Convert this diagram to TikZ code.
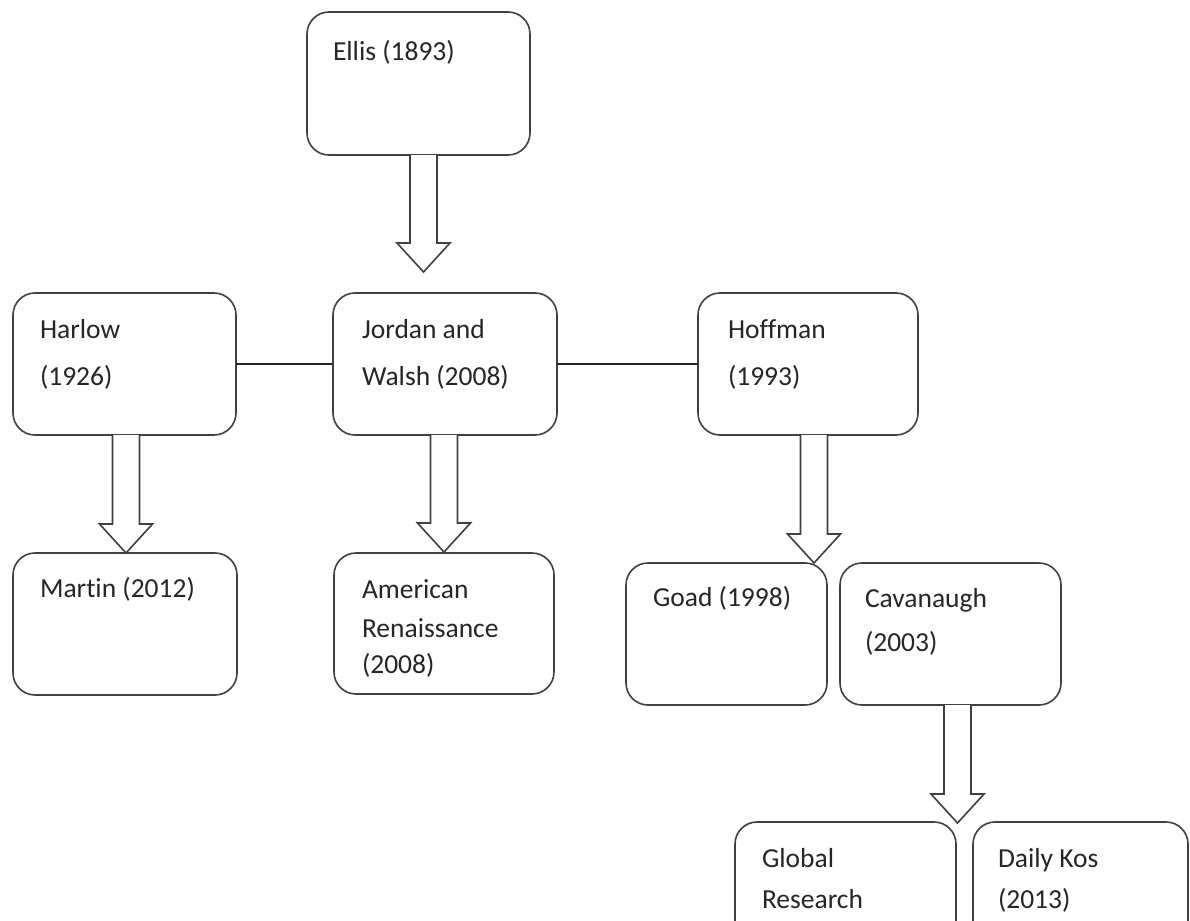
\documentclass[tikz,border=0pt]{standalone}
\usepackage{fontspec}
\setmainfont{Carlito}[Ligatures=NoCommon]
\usetikzlibrary{calc}
\definecolor{edge}{HTML}{404040}
\definecolor{ink}{HTML}{262626}
\tikzset{
  x=1pt, y=-1pt,
  box/.style={draw=edge, line width=1.6pt, rounded corners=22pt, fill=white},
  txt/.style={anchor=base west, inner sep=0pt, outer sep=0pt, text=ink, font=\fontsize{27.5}{33}\selectfont},
  link/.style={draw=black!85, line width=1.4pt},
  barrowstyle/.style={draw=edge, line width=1.6pt, fill=white, line join=miter},
}
\newcommand\boxat[5]{% name, left, top, right, bottom
  \path[box] (#2,#3) rectangle (#4,#5);
  \node[inner sep=0pt] (#1) at ({(#2+#4)/2},{(#3+#5)/2}) [minimum width={#4-#2}, minimum height={#5-#3}] {};
}
\newcommand\blockarrow[2]{% start node anchor point, tip coordinate
  \draw[barrowstyle] let \p1=(#1), \p2=(#2) in
    (\x2-13.5pt,\y1) -- (\x2-13.5pt,\y2+29pt) -- (\x2-26.5pt,\y2+29pt) -- (\x2,\y2)
    -- (\x2+26.5pt,\y2+29pt) -- (\x2+13.5pt,\y2+29pt) -- (\x2+13.5pt,\y1);
}
\begin{document}
\begin{tikzpicture}
\useasboundingbox (0,0) rectangle (1190,920);
\clip (0,0) rectangle (1190,920);
\fill[white] (0,0) rectangle (1190,920);

% boxes
\boxat{ellis}{307}{12}{530}{155}
\boxat{harlow}{13}{293}{236}{435}
\boxat{jordan}{333}{293}{557}{435}
\boxat{hoffman}{698}{293}{918}{435}
\boxat{martin}{13}{553}{237}{695}
\boxat{amren}{334}{553}{554}{694}
\boxat{goad}{626}{563}{827}{705}
\boxat{cav}{840}{563}{1061}{705}
\boxat{global}{735}{822}{956}{980}
\boxat{kos}{973}{822}{1188}{980}

% tips of block arrows
\coordinate (t-ellis) at (423.5,272);
\coordinate (t-harlow) at (126,553);
\coordinate (t-jordan) at (444,552);
\coordinate (t-hoffman) at (814,563);
\coordinate (t-cav) at (957.5,823);

% connectors
\draw[link] (harlow.east) -- (jordan.west);
\draw[link] (jordan.east) -- (hoffman.west);
\blockarrow{ellis.south}{t-ellis}
\blockarrow{harlow.south}{t-harlow}
\blockarrow{jordan.south}{t-jordan}
\blockarrow{hoffman.south}{t-hoffman}
\blockarrow{cav.south}{t-cav}

% texts
\node[txt] (l-ellis) at (333,61) {Ellis (1893)};
\node[txt] (l-harlow1) at (40,338) {Harlow};
\node[txt] (l-harlow2) at (40,385) {(1926)};
\node[txt] (l-jordan1) at (362,338) {Jordan and};
\node[txt] (l-jordan2) at (362,385) {Walsh (2008)};
\node[txt] (l-hoffman1) at (728,338) {Hoffman};
\node[txt] (l-hoffman2) at (728,385) {(1993)};
\node[txt] (l-martin) at (40,597) {Martin (2012)};
\node[txt] (l-amren1) at (362,598) {American};
\node[txt] (l-amren2) at (362,637) {Renaissance};
\begin{scope}
  \clip (340,640) rectangle (550,676);
  \node[txt] (l-amren3) at (362,673) {(2008)};
\end{scope}
\node[txt] (l-goad) at (653,606) {Goad (1998)};
\node[txt] (l-cav1) at (865,607) {Cavanaugh};
\node[txt] (l-cav2) at (865,651) {(2003)};
\node[txt] (l-global1) at (762,867) {Global};
\node[txt] (l-global2) at (762,908) {Research};
\node[txt] (l-kos1) at (998,867) {Daily Kos};
\node[txt] (l-kos2) at (998,908) {(2013)};
\end{tikzpicture}
\end{document}
